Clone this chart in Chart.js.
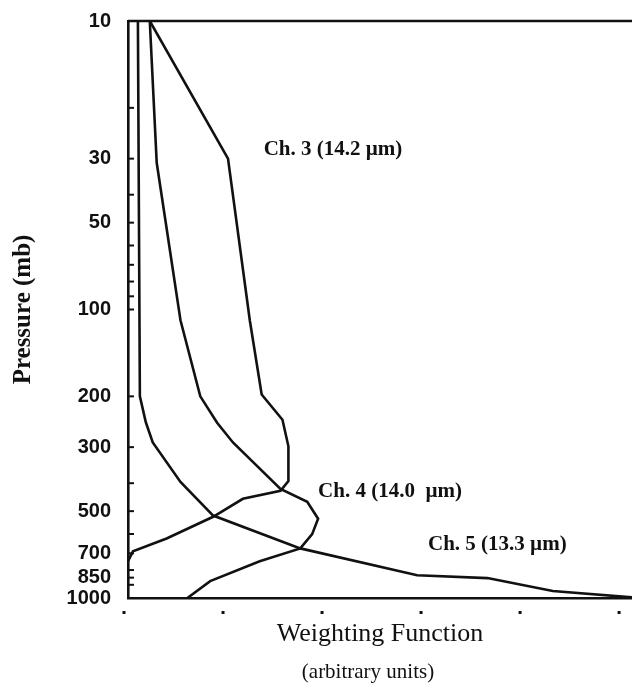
<!DOCTYPE html>
<html>
<head>
<meta charset="utf-8">
<script src="https://cdn.jsdelivr.net/npm/chart.js@4"></script>
<style>
    body { margin: 0; background: #fff; }
    #wrap { width: 632px; height: 685px; }
</style>
</head>
<body>
<div id="wrap"><canvas id="myChart"></canvas></div>
<script>
// weighting function (arbitrary units) against pressure (mb)
const ch3Weight = [0.22, 1.01, 1.23, 1.35, 1.56, 1.62, 1.62, 1.54, 1.16, 0.86, 0.39, 0.05, 0.00];
const ch3Pressure = [10, 30, 109, 197, 241, 298, 393, 425, 453, 523, 622, 689, 746];

const ch4Weight = [0.22, 0.29, 0.53, 0.73, 0.90, 1.06, 1.54, 1.81, 1.92, 1.86, 1.74, 1.33, 0.83, 0.60];
const ch4Pressure = [10, 31, 109, 200, 247, 289, 419, 464, 531, 601, 673, 746, 874, 1000];

const ch5Weight = [0.10, 0.12, 0.18, 0.25, 0.53, 0.86, 1.74, 2.92, 3.63, 4.29, 5.09];
const ch5Pressure = [10, 200, 246, 289, 396, 518, 673, 834, 853, 946, 995];

const pressureTicks = [10, 20, 30, 40, 50, 60, 70, 80, 90, 100, 200, 300, 400, 500, 600, 700, 800, 850, 900, 1000];
const pressureLabels = [10, 30, 50, 100, 200, 300, 500, 700, 850, 1000];
const weightTicks = [0, 1, 2, 3, 4, 5];

const channelLabels = [
    { text: 'Ch. 3 (14.2 \u00b5m)', x: 1.37, y: 28 },
    { text: 'Ch. 4 (14.0  \u00b5m)', x: 1.92, y: 428 },
    { text: 'Ch. 5 (13.3 \u00b5m)', x: 3.03, y: 652 }
];

function toPoints(xs, ys) {
    return xs.map((x, i) => ({ x: x, y: ys[i] }));
}

function makeDataset(label, xs, ys) {
    return {
        label: label,
        data: toPoints(xs, ys),
        showLine: true,
        borderColor: '#111',
        borderWidth: 2.6,
        pointRadius: 0,
        tension: 0,
        fill: false
    };
}

// top frame line, inward pressure ticks, dots under the x axis and text labels
const extrasPlugin = {
    id: 'extras',
    afterDraw(chart) {
        const ctx = chart.ctx;
        const area = chart.chartArea;
        const xs = chart.scales.x;
        const ys = chart.scales.y;
        ctx.save();
        ctx.strokeStyle = '#111';
        ctx.lineWidth = 2.6;
        ctx.beginPath();
        ctx.moveTo(area.left, area.top);
        ctx.lineTo(area.right, area.top);
        ctx.stroke();

        ctx.lineWidth = 2;
        pressureTicks.forEach(p => {
            const py = ys.getPixelForValue(p);
            ctx.beginPath();
            ctx.moveTo(area.left, py);
            ctx.lineTo(area.left + 6, py);
            ctx.stroke();
        });

        ctx.fillStyle = '#111';
        weightTicks.forEach(w => {
            const px = xs.getPixelForValue(w) - 4;
            ctx.fillRect(px - 1.5, area.bottom + 13, 3, 3);
        });

        ctx.font = 'bold 21px "Liberation Serif", serif';
        ctx.textBaseline = 'middle';
        ctx.textAlign = 'left';
        channelLabels.forEach(l => {
            ctx.fillText(l.text, xs.getPixelForValue(l.x), ys.getPixelForValue(l.y));
        });

        ctx.font = '21px "Liberation Serif", serif';
        ctx.textAlign = 'center';
        ctx.fillText('(arbitrary units)', (area.left + area.right) / 2 - 12, 672);
        ctx.restore();
    }
};

function createChart() {
    const ctx = document.getElementById('myChart').getContext('2d');
    return new Chart(ctx, {
        type: 'scatter',
        data: {
            datasets: [
                makeDataset('Ch. 3', ch3Weight, ch3Pressure),
                makeDataset('Ch. 4', ch4Weight, ch4Pressure),
                makeDataset('Ch. 5', ch5Weight, ch5Pressure)
            ]
        },
        options: {
            responsive: true,
            maintainAspectRatio: false,
            animation: false,
            layout: { padding: { top: 18, right: 0, left: 0, bottom: 0 } },
            plugins: {
                legend: { display: false },
                tooltip: { enabled: false }
            },
            scales: {
                x: {
                    type: 'linear',
                    position: 'bottom',
                    min: 0,
                    max: 5.09,
                    grid: { display: false },
                    border: { display: true, color: '#111', width: 2.6 },
                    ticks: { display: false },
                    afterFit: scale => { scale.height = 87; },
                    title: {
                        display: true,
                        text: 'Weighting Function',
                        color: '#111',
                        font: { family: '"Liberation Serif", serif', size: 26 },
                        padding: { top: 0, bottom: 35 }
                    }
                },
                y: {
                    type: 'logarithmic',
                    position: 'left',
                    reverse: true,
                    min: 10,
                    max: 1000,
                    grid: { display: false },
                    border: { display: true, color: '#111', width: 2.6 },
                    afterBuildTicks: scale => {
                        scale.ticks = pressureTicks.map(v => ({ value: v }));
                    },
                    afterFit: scale => { scale.width = 128; },
                    ticks: {
                        autoSkip: false,
                        padding: 9,
                        color: '#111',
                        font: { family: '"Liberation Sans", sans-serif', size: 20, weight: 'bold' },
                        callback: value => pressureLabels.includes(value) ? String(value) : ''
                    },
                    title: {
                        display: true,
                        text: 'Pressure (mb)',
                        color: '#111',
                        font: { family: '"Liberation Serif", serif', size: 25, weight: 'bold' },
                        padding: { top: 9, bottom: 0 }
                    }
                }
            }
        },
        plugins: [extrasPlugin]
    });
}

let chart = createChart();
</script>
</body>
</html>
